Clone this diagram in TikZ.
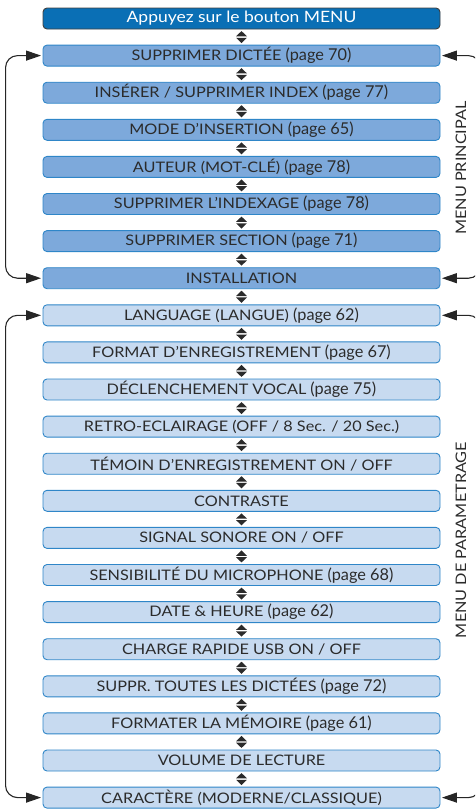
\documentclass[tikz,border=0pt]{standalone}
\usepackage{fontspec}
\setmainfont{Lato}[FakeStretch=1.12]
\newfontfamily\pgfont{Lato}[FakeStretch=1.0]
\usetikzlibrary{arrows.meta,calc}
\definecolor{hdrfill}{HTML}{0A6FB5}
\definecolor{mainfill}{HTML}{7DA9DB}
\definecolor{parfill}{HTML}{C7DAF0}
\definecolor{boxline}{HTML}{2F86C8}
\definecolor{txt}{HTML}{2B2B2B}
\newcommand{\updown}[1]{%
  \fill[txt] ($(#1)+(-5.5,-0.7)$) -- ($(#1)+(5.5,-0.7)$) -- ($(#1)+(0,-6)$) -- cycle;
  \fill[txt] ($(#1)+(-5.5,0.7)$) -- ($(#1)+(5.5,0.7)$) -- ($(#1)+(0,6)$) -- cycle;}
\newcommand{\pg}[1]{{\pgfont\fontsize{16.3}{16}\selectfont (page #1)}}
\begin{document}
\begin{tikzpicture}[x=1pt,y=-1pt,
  box/.style={draw=boxline, line width=0.9pt, rounded corners=4pt, minimum width=397pt,
    minimum height=21pt, inner sep=0pt, text=txt, font=\fontsize{14.5}{15}\selectfont},
  hdr/.style={box, fill=hdrfill, draw=black!75, text=white, font=\fontsize{15.6}{16}\selectfont},
  mainbox/.style={box, fill=mainfill},
  parbox/.style={box, fill=parfill},
  looparrow/.style={draw=black!85, line width=1.1pt, rounded corners=12pt,
    shorten <=1.5pt, shorten >=1.5pt,
    {Triangle[length=15pt,width=10pt]}-{Triangle[length=15pt,width=10pt]}},
  side/.style={text=txt, rotate=90, inner sep=0pt, font=\fontsize{14.5}{15}\selectfont}]
\useasboundingbox (0,0) rectangle (475,809);
\clip (0,0) rectangle (475,809);
\def\cx{241.5}
\node[hdr] (n0) at (\cx,18.5) {Appuyez sur le bouton MENU};
\node[mainbox] (n1) at (\cx,55.6) {SUPPRIMER DICTÉE \pg{70}};
\node[mainbox] (n2) at (\cx,92.7) {INSÉRER / SUPPRIMER INDEX \pg{77}};
\node[mainbox] (n3) at (\cx,129.8) {MODE D’INSERTION \pg{65}};
\node[mainbox] (n4) at (\cx,166.9) {AUTEUR (MOT-CLÉ) \pg{78}};
\node[mainbox] (n5) at (\cx,204.0) {SUPPRIMER L’INDEXAGE \pg{78}};
\node[mainbox] (n6) at (\cx,241.1) {SUPPRIMER SECTION \pg{71}};
\node[mainbox] (n7) at (\cx,278.2) {INSTALLATION};
\node[parbox] (n8) at (\cx,315.3) {LANGUAGE (LANGUE) \pg{62}};
\node[parbox] (n9) at (\cx,352.4) {FORMAT D’ENREGISTREMENT \pg{67}};
\node[parbox] (n10) at (\cx,389.5) {DÉCLENCHEMENT VOCAL \pg{75}};
\node[parbox] (n11) at (\cx,426.6) {RETRO-ECLAIRAGE (OFF / 8 Sec. / 20 Sec.)};
\node[parbox] (n12) at (\cx,463.7) {TÉMOIN D’ENREGISTREMENT ON / OFF};
\node[parbox] (n13) at (\cx,500.8) {CONTRASTE};
\node[parbox] (n14) at (\cx,537.9) {SIGNAL SONORE ON / OFF};
\node[parbox] (n15) at (\cx,575.0) {SENSIBILITÉ DU MICROPHONE \pg{68}};
\node[parbox] (n16) at (\cx,612.1) {DATE \& HEURE \pg{62}};
\node[parbox] (n17) at (\cx,649.2) {CHARGE RAPIDE USB ON / OFF};
\node[parbox] (n18) at (\cx,686.3) {SUPPR. TOUTES LES DICTÉES \pg{72}};
\node[parbox] (n19) at (\cx,723.4) {FORMATER LA MÉMOIRE \pg{61}};
\node[parbox] (n20) at (\cx,760.5) {VOLUME DE LECTURE};
\node[parbox] (n21) at (\cx,797.6) {CARACTÈRE (MODERNE/CLASSIQUE)};
\foreach \a/\b in {0/1,1/2,2/3,3/4,4/5,5/6,6/7,7/8,8/9,9/10,10/11,11/12,12/13,13/14,14/15,15/16,16/17,17/18,18/19,19/20,20/21}{
  \coordinate (m\a) at ($(n\a.south)!0.5!(n\b.north)$);
  \updown{m\a}
}
\draw[looparrow] (n1.west) -- ([xshift=-37pt]n1.west) -- ([xshift=-37pt]n7.west) -- (n7.west);
\draw[looparrow] (n1.east) -- ([xshift=40pt]n1.east) -- ([xshift=40pt]n7.east) -- (n7.east);
\draw[looparrow] (n8.west) -- ([xshift=-37pt]n8.west) -- ([xshift=-37pt]n21.west) -- (n21.west);
\draw[looparrow] (n8.east) -- ([xshift=40pt]n8.east) -- ([xshift=40pt]n21.east) -- (n21.east);
\node[side] (lab1) at (461,168) {MENU PRINCIPAL};
\node[side] (lab2) at (461,540) {MENU DE PARAMETRAGE};
\end{tikzpicture}
\end{document}
